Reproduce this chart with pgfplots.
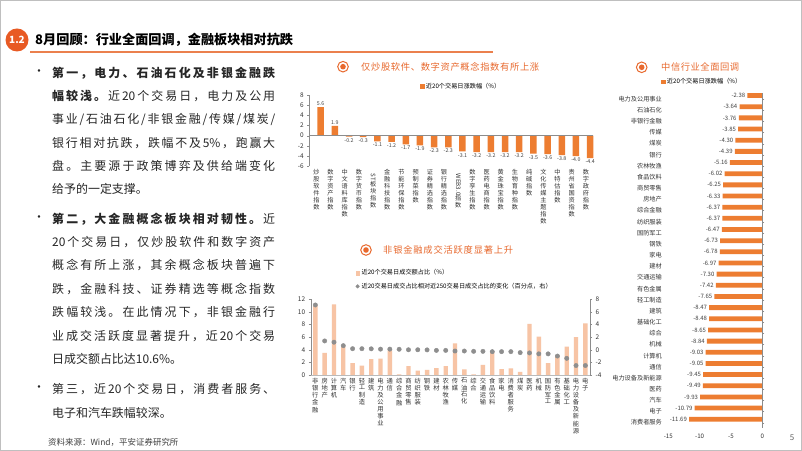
\documentclass[border=0pt]{standalone}
\usepackage{fontspec}
\setmainfont{Noto Sans CJK SC}
\usepackage{graphicx}
\usepackage{pgfplots}
\pgfplotsset{compat=1.18}
\definecolor{obar}{HTML}{ED7D31}
\definecolor{peach}{HTML}{F7C4A5}
\definecolor{dotg}{HTML}{8E8E8E}
\definecolor{ttl}{HTML}{E8692E}
\definecolor{badge}{HTML}{E85A24}
\definecolor{axg}{HTML}{8C8C8C}
\definecolor{txt}{HTML}{262626}
\makeatletter
\newcommand\spr[1]{\@tfor\sp@x:=#1\do{\sp@x\hskip0pt plus1fil\relax}\unskip}
\makeatother
\newcommand\gl{\hskip0pt plus1fil\relax}
\newcommand\jl[1]{\makebox[223bp][s]{#1}}
\newcommand\vt[1]{{\def\arraystretch{0.93}\begin{tabular}[t]{@{}c@{}}#1\end{tabular}}}
\newcommand\rl[1]{\rotatebox{-90}{#1}}
\begin{document}
\begin{tikzpicture}[x=1bp,y=1bp]
\useasboundingbox (0,0) rectangle (802,451);
\fill[white] (0,0) rectangle (802,451);
\draw[gray!50, line width=1.2bp] (0.6,0.6) rectangle (801.4,450.4);
% header
\fill[badge] (17,411) circle (11.5);
\node[text=white,font=\fontsize{10}{12}\selectfont\bfseries] at (17,411) {1.2};
\node[anchor=west,inner sep=0,font=\fontsize{13.2}{16}\selectfont\bfseries] at (35,411) {8月回顾：行业全面回调，金融板块相对抗跌};
\draw[ttl!85, line width=1.3bp] (30,399) -- (493,399);
% body text
\begin{scope}[every node/.style={anchor=west,inner sep=0,font=\fontsize{12}{14}\selectfont,text=txt}]
\node at (33,378) {•};
\node at (52,378) {\jl{\bfseries\spr{第一，电力、石油石化及非银金融跌}}};
\node at (52,355) {\jl{\textbf{\spr{幅较浅。}}\gl\spr{近{20}个交易日，电力及公用}}};
\node at (52,331) {\jl{\spr{事业/石油石化/非银金融/传媒/煤炭/}}};
\node at (52,308) {\jl{\spr{银行相对抗跌，跌幅不及{5\%}，跑赢大}}};
\node at (52,285) {\jl{\spr{盘。主要源于政策博弈及供给端变化}}};
\node at (52,262) {给予的一定支撑。};
\node at (33,232) {•};
\node at (52,232) {\jl{\textbf{\spr{第二，大金融概念板块相对韧性。}}\gl\spr{近}}};
\node at (52,209) {\jl{\spr{{20}个交易日，仅炒股软件和数字资产}}};
\node at (52,186) {\jl{\spr{概念有所上涨，其余概念板块普遍下}}};
\node at (52,162) {\jl{\spr{跌，金融科技、证券精选等概念指数}}};
\node at (52,139) {\jl{\spr{跌幅较浅。在此情况下，非银金融行}}};
\node at (52,115) {\jl{\spr{业成交活跃度显著提升，近{20}个交易}}};
\node at (52,92) {日成交额占比达10.6\%。};
\node at (33,62) {•};
\node at (52,62) {\jl{\spr{第三，近{20}个交易日，消费者服务、}}};
\node at (52,38) {电子和汽车跌幅较深。};
\end{scope}
\node[anchor=west,inner sep=0,font=\fontsize{8.5}{10}\selectfont,text=black!75] at (48,9) {资料来源：Wind，平安证券研究所};
\node[font=\fontsize{8}{10}\selectfont,text=black!60] at (792,13) {5};
% chart titles
\draw[ttl,line width=1bp] (343,384.3) circle (5.3); \fill[ttl] (343,384.3) circle (2.8);
\node[anchor=west,inner sep=0,font=\fontsize{9.3}{11}\selectfont,text=ttl] at (361,384.3) {\makebox[178bp][s]{\spr{仅炒股软件、数字资产概念指数有所上涨}}};
\draw[ttl,line width=1bp] (366,201) circle (5.3); \fill[ttl] (366,201) circle (2.8);
\node[anchor=west,inner sep=0,font=\fontsize{9.3}{11}\selectfont,text=ttl] at (383,201) {\makebox[130bp][s]{\spr{非银金融成交活跃度显著上升}}};
\draw[ttl,line width=1bp] (641.7,383.7) circle (5.3); \fill[ttl] (641.7,383.7) circle (2.8);
\node[anchor=west,inner sep=0,font=\fontsize{9.3}{11}\selectfont,text=ttl] at (661,383.7) {\makebox[78bp][s]{\spr{中信行业全面回调}}};

% ===== chart 1 =====
\begin{axis}[
  at={(309.3bp,284.7bp)}, anchor=south west, scale only axis,
  width=283.7bp, height=71.4bp,
  xmin=-0.5, xmax=19.5, ymin=-6, ymax=8,
  ytick={-6,-4,...,8}, xtick={0,...,19},
  axis y line*=left, axis x line*=bottom,
  x axis line style={draw=none}, y axis line style={draw=axg},
  xtick style={draw=none}, ytick style={draw=axg}, major tick length=2bp,
  tick align=outside,
  /pgf/number format/assume math mode=true,
  tick label style={font=\fontsize{6.5}{7}\selectfont, text=black!80},
  xticklabel style={font=\fontsize{6.2}{6.6}\selectfont, inner sep=1bp},
  xticklabels={\vt{炒\\股\\软\\件\\指\\数},\vt{数\\字\\资\\产\\指\\数},\vt{中\\文\\语\\料\\库\\指\\数},\vt{数\\字\\货\\币\\指\\数},\vt{\rl{ST}\\板\\块\\指\\数},\vt{金\\融\\科\\技\\指\\数},\vt{节\\能\\环\\保\\指\\数},\vt{预\\制\\菜\\指\\数},\vt{证\\券\\精\\选\\指\\数},\vt{银\\行\\精\\选\\指\\数},\vt{\rl{WEB3.0}\\指\\数},\vt{数\\字\\孪\\生\\指\\数},\vt{医\\药\\电\\商\\指\\数},\vt{黄\\金\\珠\\宝\\指\\数},\vt{生\\物\\育\\种\\指\\数},\vt{纯\\碱\\指\\数},\vt{文\\化\\传\\媒\\主\\题\\指\\数},\vt{中\\特\\估\\指\\数},\vt{贵\\州\\省\\国\\资\\指\\数},\vt{数\\字\\政\\府\\指\\数}},
  ybar, bar width=6.5bp, clip=false,
  nodes near coords, nodes near coords align=vertical,
  every node near coord/.append style={font=\fontsize{5.3}{6}\selectfont, text=black!75, inner sep=1.5bp,
    /pgf/number format/fixed, /pgf/number format/fixed zerofill, /pgf/number format/precision=1},
  legend style={draw=none, fill=none, at={(0.535,1)}, anchor=south, yshift=2bp, inner sep=1bp,
    font=\fontsize{6.2}{7}\selectfont},
]
\addplot[fill=obar, draw=none, forget plot] coordinates {
(0,5.6)(1,1.9)(2,-0.2)(3,-0.3)(4,-1.1)(5,-1.2)(6,-1.7)(7,-1.9)(8,-2.3)(9,-2.3)
(10,-3.1)(11,-3.2)(12,-3.2)(13,-3.2)(14,-3.2)(15,-3.5)(16,-3.6)(17,-3.8)(18,-4.0)(19,-4.4)};
\addlegendimage{legend image code/.code={\fill[obar] (0bp,-1.8bp) rectangle (3.6bp,1.8bp);}}
\addlegendentry{近20个交易日涨跌幅（\%）}
\draw[axg] (axis cs:-0.5,0) -- (axis cs:19.5,0);
\end{axis}

% ===== chart 2 (bars, left axis) =====
\begin{axis}[
  at={(310.7bp,76bp)}, anchor=south west, scale only axis,
  width=279.3bp, height=75.7bp,
  xmin=-0.5, xmax=29.5, ymin=0, ymax=12,
  ytick={0,2,...,12}, xtick={0,...,29},
  axis y line*=left, axis x line*=bottom,
  x axis line style={draw=axg!60}, y axis line style={draw=axg},
  xtick style={draw=none}, ytick style={draw=axg}, major tick length=2bp,
  tick align=outside,
  /pgf/number format/assume math mode=true,
  tick label style={font=\fontsize{6.5}{7}\selectfont, text=black!80},
  xticklabel style={font=\fontsize{6.3}{6.8}\selectfont, inner sep=1bp},
  xticklabels={\vt{非\\银\\行\\金\\融},\vt{房\\地\\产},\vt{计\\算\\机},\vt{汽\\车},\vt{银\\行},\vt{轻\\工\\制\\造},\vt{建\\筑},\vt{电\\力\\及\\公\\用\\事\\业},\vt{通\\信},\vt{综\\合\\金\\融},\vt{商\\贸\\零\\售},\vt{纺\\织\\服\\装},\vt{钢\\铁},\vt{建\\材},\vt{农\\林\\牧\\渔},\vt{传\\媒},\vt{石\\油\\石\\化},\vt{综\\合},\vt{交\\通\\运\\输},\vt{食\\品\\饮\\料},\vt{家\\电},\vt{消\\费\\者\\服\\务},\vt{煤\\炭},\vt{医\\药},\vt{机\\械},\vt{国\\防\\军\\工},\vt{有\\色\\金\\属},\vt{基\\础\\化\\工},\vt{电\\力\\设\\备\\及\\新\\能\\源},\vt{电\\子}},
  ybar, bar width=4.4bp,
]
\addplot[fill=peach, draw=none] coordinates {
(0,11.0)(1,3.5)(2,11.2)(3,4.5)(4,1.9)(5,1.5)(6,2.5)(7,2.6)(8,3.9)(9,0.1)
(10,1.4)(11,0.7)(12,0.8)(13,1.1)(14,1.4)(15,5.0)(16,0.9)(17,0.1)(18,1.6)(19,3.8)
(20,0.95)(21,1.05)(22,0.5)(23,8.1)(24,6.1)(25,1.9)(26,3.1)(27,4.5)(28,6.0)(29,8.2)};
\end{axis}
% ===== chart 2 (dots, right axis) =====
\begin{axis}[
  at={(310.7bp,76bp)}, anchor=south west, scale only axis,
  width=279.3bp, height=75.7bp,
  xmin=-0.5, xmax=29.5, ymin=-4, ymax=8,
  ytick={-4,-2,...,8}, xtick=\empty,
  axis y line*=right, axis x line=none,
  y axis line style={draw=axg},
  ytick style={draw=axg}, major tick length=2bp,
  tick align=outside,
  /pgf/number format/assume math mode=true,
  tick label style={font=\fontsize{6.5}{7}\selectfont, text=black!80},
  legend cell align=left,
  legend style={draw=none, fill=none, at={(0.16,1.42)}, anchor=north west, inner sep=0bp,
    row sep=2.5bp, font=\fontsize{6.2}{7}\selectfont},
]
\addlegendimage{legend image code/.code={\fill[peach] (0bp,-1.8bp) rectangle (3.6bp,1.8bp);}}
\addlegendentry{近20个交易日成交额占比（\%）}
\addlegendimage{legend image code/.code={\fill[dotg] (1.8bp,0bp) circle (1.8bp);}}
\addlegendentry{近20交易日成交占比相对近250交易日成交占比的变化（百分点，右）}
\addplot[only marks, mark=*, mark size=2.2bp, color=dotg, forget plot] coordinates {
(0,7.1)(1,1.4)(2,1.2)(3,0.65)(4,0.17)(5,0.17)(6,0.15)(7,0.1)(8,0.1)(9,0.08)
(10,0.0)(11,0.0)(12,-0.02)(13,-0.1)(14,-0.1)(15,-0.2)(16,-0.2)(17,-0.25)(18,-0.25)(19,-0.3)
(20,-0.3)(21,-0.3)(22,-0.45)(23,-0.5)(24,-0.65)(25,-0.65)(26,-1.0)(27,-1.36)(28,-2.5)(29,-2.5)};
\end{axis}

% ===== chart 3 =====
\begin{axis}[
  at={(668.3bp,22.8bp)}, anchor=south west, scale only axis,
  width=94bp, height=334.8bp,
  xmin=-15, xmax=0, ymin=-0.5, ymax=29.5, y dir=reverse,
  xtick={-15,-10,-5,0}, ytick={0,...,29},
  axis line style={draw=none},
  xtick style={draw=none},
  ytick pos=right, yticklabel pos=left,
  ytick style={draw=axg}, major tick length=2bp,
  tick align=outside,
  /pgf/number format/assume math mode=true,
  tick label style={font=\fontsize{6.2}{7}\selectfont, text=black!80},
  yticklabel style={xshift=-1bp},
  yticklabels={电力及公用事业,石油石化,非银行金融,传媒,煤炭,银行,农林牧渔,食品饮料,商贸零售,房地产,综合金融,纺织服装,国防军工,钢铁,家电,建材,交通运输,有色金属,轻工制造,建筑,基础化工,综合,机械,计算机,通信,电力设备及新能源,医药,汽车,电子,消费者服务},
  xbar, bar width=4.8bp, clip=false,
  nodes near coords, nodes near coords align=horizontal,
  every node near coord/.append style={font=\fontsize{6}{7}\selectfont, text=black!75, inner sep=2bp,
    /pgf/number format/fixed, /pgf/number format/fixed zerofill, /pgf/number format/precision=2},
  legend style={draw=none, fill=none, at={(0.36,1)}, anchor=south, yshift=5bp, inner sep=1bp,
    font=\fontsize{6.2}{7}\selectfont},
]
\addplot[fill=obar, draw=none, forget plot] coordinates {
(-2.38,0)(-3.64,1)(-3.76,2)(-3.85,3)(-4.30,4)(-4.39,5)(-5.16,6)(-6.02,7)(-6.25,8)(-6.33,9)
(-6.37,10)(-6.37,11)(-6.47,12)(-6.73,13)(-6.78,14)(-6.97,15)(-7.30,16)(-7.42,17)(-7.65,18)(-8.47,19)
(-8.48,20)(-8.65,21)(-8.84,22)(-9.03,23)(-9.05,24)(-9.45,25)(-9.49,26)(-9.93,27)(-10.79,28)(-11.69,29)};
\addlegendimage{legend image code/.code={\fill[obar] (0bp,-1.8bp) rectangle (3.6bp,1.8bp);}}
\addlegendentry{近20个交易日涨跌幅（\%）}
\draw[axg] (axis cs:0,-0.5) -- (axis cs:0,29.5);
\end{axis}
\end{tikzpicture}
\end{document}
